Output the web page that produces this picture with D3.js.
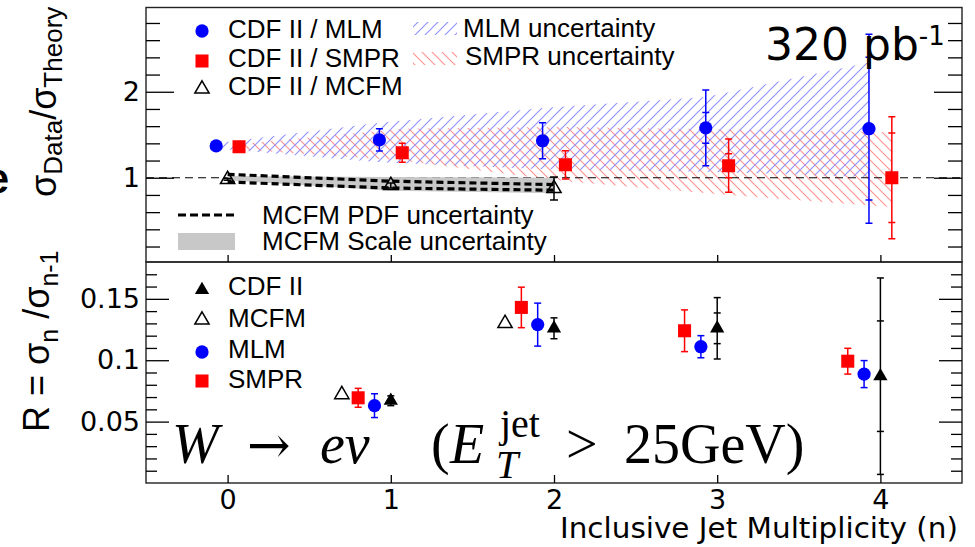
<!DOCTYPE html>
<html>
<head>
<meta charset="utf-8">
<script src="https://cdn.jsdelivr.net/npm/d3@7"></script>
<style>
  html, body { margin: 0; padding: 0; background: #fff; }
  svg { display: block; }
</style>
</head>
<body>
<svg id="chart" width="975" height="547"></svg>
<script>
// ---- Upper panel: data / theory cross-section ratios vs inclusive jet multiplicity
const nJets = [0, 1, 2, 3, 4];
const mlmRatio = [1.37, 1.44, 1.43, 1.58, 1.57];
const mlmRatioErr = [0.03, 0.13, 0.21, 0.44, 1.10];
const mlmRatioStat = [0, 0, 0, 0.18, 0.83];
const smprRatio = [1.36, 1.29, 1.15, 1.14, 1.00];
const smprRatioErr = [0.03, 0.11, 0.165, 0.31, 0.71];
const smprRatioStat = [0, 0, 0, 0.14, 0.52];

const mcfmN = [0, 1, 2];
const mcfmRatio = [0.98, 0.91, 0.875];
const mcfmRatioErr = [0.01, 0.03, 0.135];

// theory uncertainty bands (upper / lower edge at each multiplicity)
const mlmBandHi = [1.40, 1.64, 1.81, 1.94, 2.34];
const mlmBandLo = [1.34, 1.18, 1.10, 1.07, 1.01];
const smprBandHi = [1.39, 1.57, 1.59, 1.56, 1.53];
const smprBandLo = [1.33, 1.20, 0.96, 0.80, 0.66];
const mcfmPdfHi = [1.04, 0.96, 0.92];
const mcfmPdfLo = [0.95, 0.88, 0.855];
const mcfmScaleHi = [1.02, 1.01, 1.00];
const mcfmScaleLo = [0.97, 0.85, 0.82];

// ---- Lower panel: R = sigma_n / sigma_(n-1)
const rN = [1, 2, 3, 4];
const cdfR = [0.067, 0.126, 0.126, 0.087];
const cdfRErr = [0.004, 0.0085, 0.025, 0.080];
const cdfRStat = [0, 0, 0.0125, 0.045];
const mcfmRN = [1, 2];
const mcfmR = [0.072, 0.130];
const mlmR = [0.063, 0.129, 0.111, 0.0887];
const mlmRErr = [0.0097, 0.0175, 0.009, 0.011];
const smprR = [0.0694, 0.143, 0.124, 0.0992];
const smprRErr = [0.0077, 0.0165, 0.017, 0.0105];

// ---- tick labels
const xTickValues = [0, 1, 2, 3, 4];
const xTickLabels = ["0", "1", "2", "3", "4"];
const yTopMajor = [1, 2];
const yTopLabels = ["1", "2"];
const yBotMajor = [0.05, 0.1, 0.15];
const yBotLabels = ["0.05", "0.1", "0.15"];

// ---- layout
const L = 146, R = 962;
const topT = 7.5, topB = 262, botT = 262, botB = 483;
const BLUE = "#0000ff", RED = "#ff0000";
const SANS = "'Liberation Sans', Arial, sans-serif";
const TICKFONT = "'DejaVu Sans', sans-serif";

const svg = d3.select("#chart");

const x = d3.scaleLinear().domain([-0.5, 4.5]).range([L, R]);
const yTop = d3.scaleLinear().domain([0.02, 2.98]).range([topB, topT]);
const yBot = d3.scaleLinear().domain([0, 0.18]).range([botB, botT]);

// hatch patterns
const defs = svg.append("defs");
function hatch(id, color, dir) {
  const p = defs.append("pattern").attr("id", id)
    .attr("patternUnits", "userSpaceOnUse").attr("width", 10).attr("height", 10);
  const d = dir > 0
    ? "M0,10 L10,0 M-2,2 L2,-2 M8,12 L12,8"
    : "M0,0 L10,10 M-2,8 L2,12 M8,-2 L12,2";
  p.append("path").attr("d", d).attr("stroke", color).attr("stroke-width", 1.1).attr("fill", "none");
}
hatch("hatchMLM", "#8f8fff", 1);
hatch("hatchSMPR", "#ff9090", -1);

defs.append("clipPath").attr("id", "clipTop")
  .append("rect").attr("x", L).attr("y", topT).attr("width", R - L).attr("height", topB - topT);

const upper = svg.append("g").attr("clip-path", "url(#clipTop)");

function band(ns, off, hi, lo, yScale) {
  const pts = ns.map((n, i) => ({ n: n + off, hi: hi[i], lo: lo[i] }));
  return d3.area().x(d => x(d.n)).y0(d => yScale(d.lo)).y1(d => yScale(d.hi))(pts);
}

const OFF_MLM = -0.07, OFF_SMPR = 0.07;

upper.append("path").attr("d", band(nJets, OFF_SMPR, smprBandHi, smprBandLo, yTop))
  .attr("fill", "url(#hatchSMPR)");
upper.append("path").attr("d", band(nJets, OFF_MLM, mlmBandHi, mlmBandLo, yTop))
  .attr("fill", "url(#hatchMLM)");

// unity reference line
upper.append("line").attr("x1", L).attr("x2", R).attr("y1", yTop(1)).attr("y2", yTop(1))
  .attr("stroke", "#000").attr("stroke-width", 1.1).attr("stroke-dasharray", "8,5");

// MCFM scale (grey) and PDF (dashed) uncertainties
upper.append("path").attr("d", band(mcfmN, 0, mcfmScaleHi, mcfmScaleLo, yTop))
  .attr("fill", "#c8c8c8");
const pdfLine = arr => d3.line().x((d, i) => x(mcfmN[i])).y(d => yTop(d))(arr);
[mcfmPdfHi, mcfmPdfLo].forEach(arr => {
  upper.append("path").attr("d", pdfLine(arr)).attr("fill", "none")
    .attr("stroke", "#000").attr("stroke-width", 3.2).attr("stroke-dasharray", "7,4");
});

// error bars + markers
function errBar(g, cx, yScale, v, e, stat, color, cap) {
  g.append("line").attr("x1", cx).attr("x2", cx)
    .attr("y1", yScale(v - e)).attr("y2", yScale(v + e))
    .attr("stroke", color).attr("stroke-width", 1.5);
  [v - e, v + e].forEach(t => g.append("line")
    .attr("x1", cx - cap).attr("x2", cx + cap).attr("y1", yScale(t)).attr("y2", yScale(t))
    .attr("stroke", color).attr("stroke-width", 1.5));
  if (stat > 0) {
    [v - stat, v + stat].forEach(t => g.append("line")
      .attr("x1", cx - cap).attr("x2", cx + cap).attr("y1", yScale(t)).attr("y2", yScale(t))
      .attr("stroke", color).attr("stroke-width", 1.5));
  }
}
const sym = {
  circle: d3.symbol().type(d3.symbolCircle).size(138)(),
  square: d3.symbol().type(d3.symbolSquare).size(170)(),
  tri: d3.symbol().type(d3.symbolTriangle).size(88)()
};
function marker(g, type, cx, cy, fill, stroke) {
  g.append("path").attr("d", sym[type]).attr("transform", `translate(${cx},${cy})`)
    .attr("fill", fill).attr("stroke", stroke || "none").attr("stroke-width", stroke ? 1.5 : 0);
}

mcfmN.forEach((n, i) => {
  errBar(upper, x(n), yTop, mcfmRatio[i], mcfmRatioErr[i], 0, "#000", 4);
  marker(upper, "tri", x(n), yTop(mcfmRatio[i]), "none", "#000");
});
nJets.forEach((n, i) => {
  errBar(upper, x(n + OFF_MLM), yTop, mlmRatio[i], mlmRatioErr[i], mlmRatioStat[i], BLUE, 3.5);
  marker(upper, "circle", x(n + OFF_MLM), yTop(mlmRatio[i]), BLUE);
  errBar(upper, x(n + OFF_SMPR), yTop, smprRatio[i], smprRatioErr[i], smprRatioStat[i], RED, 3.5);
  marker(upper, "square", x(n + OFF_SMPR), yTop(smprRatio[i]), RED);
});

// lower panel points
const lower = svg.append("g");
mcfmRN.forEach((n, i) => marker(lower, "tri", x(n - 0.3), yBot(mcfmR[i]), "none", "#000"));
rN.forEach((n, i) => {
  errBar(lower, x(n - 0.2), yBot, smprR[i], smprRErr[i], 0, RED, 3.5);
  marker(lower, "square", x(n - 0.2), yBot(smprR[i]), RED);
  errBar(lower, x(n - 0.1), yBot, mlmR[i], mlmRErr[i], 0, BLUE, 3.5);
  marker(lower, "circle", x(n - 0.1), yBot(mlmR[i]), BLUE);
  errBar(lower, x(n), yBot, cdfR[i], cdfRErr[i], cdfRStat[i], "#000", 3.5);
  marker(lower, "tri", x(n), yBot(cdfR[i]), "#000");
});

// ---- frames
[[topT, topB], [botT, botB]].forEach(([t, b]) => {
  svg.append("rect").attr("x", L).attr("y", t).attr("width", R - L).attr("height", b - t)
    .attr("fill", "none").attr("stroke", "#222").attr("stroke-width", 1.4);
});

// ---- axes
function styleAxis(g) {
  g.select(".domain").remove();
  g.selectAll(".tick line").attr("stroke", "#000").attr("stroke-width", 1.3);
  g.selectAll(".tick text").attr("font-family", TICKFONT).attr("font-size", 27).attr("fill", "#000");
}
const topMinor = d3.range(0.2, 2.81, 0.2).filter(v => Math.abs(v - 1) > 1e-6 && Math.abs(v - 2) > 1e-6);
const botMinor = d3.range(1, 18).filter(k => k % 5 !== 0).map(k => k / 100);

// left/right ticks, upper panel
svg.append("g").attr("transform", `translate(${L},0)`)
  .call(d3.axisLeft(yTop).tickValues(yTopMajor).tickSize(-28).tickPadding(6)
    .tickFormat((d, i) => yTopLabels[i])).call(styleAxis);
svg.append("g").attr("transform", `translate(${L},0)`)
  .call(d3.axisLeft(yTop).tickValues(topMinor).tickSize(-14).tickFormat("")).call(styleAxis);
svg.append("g").attr("transform", `translate(${R},0)`)
  .call(d3.axisRight(yTop).tickValues(yTopMajor).tickSize(-28).tickFormat("")).call(styleAxis);
svg.append("g").attr("transform", `translate(${R},0)`)
  .call(d3.axisRight(yTop).tickValues(topMinor).tickSize(-14).tickFormat("")).call(styleAxis);

// left/right ticks, lower panel
svg.append("g").attr("transform", `translate(${L},0)`)
  .call(d3.axisLeft(yBot).tickValues(yBotMajor).tickSize(-23).tickPadding(6)
    .tickFormat((d, i) => yBotLabels[i])).call(styleAxis);
svg.append("g").attr("transform", `translate(${L},0)`)
  .call(d3.axisLeft(yBot).tickValues(botMinor).tickSize(-11).tickFormat("")).call(styleAxis);
svg.append("g").attr("transform", `translate(${R},0)`)
  .call(d3.axisRight(yBot).tickValues(yBotMajor).tickSize(-23).tickFormat("")).call(styleAxis);
svg.append("g").attr("transform", `translate(${R},0)`)
  .call(d3.axisRight(yBot).tickValues(botMinor).tickSize(-11).tickFormat("")).call(styleAxis);

// bottom ticks of both panels
svg.append("g").attr("transform", `translate(0,${topB})`)
  .call(d3.axisBottom(x).tickValues(xTickValues).tickSize(-7).tickFormat("")).call(styleAxis);
svg.append("g").attr("transform", `translate(0,${botB})`)
  .call(d3.axisBottom(x).tickValues(xTickValues).tickSize(-8).tickPadding(7)
    .tickFormat((d, i) => xTickLabels[i])).call(styleAxis);

// ---- axis titles
svg.append("text").attr("x", 958).attr("y", 538).attr("text-anchor", "end")
  .attr("font-family", TICKFONT).attr("font-size", 28)
  .attr("textLength", 398).attr("lengthAdjust", "spacingAndGlyphs")
  .text("Inclusive Jet Multiplicity (n)");

const yt1 = svg.append("text").attr("transform", "translate(56,197) rotate(-90)")
  .attr("font-family", SANS).attr("font-size", 36);
yt1.append("tspan").text("σ");
yt1.append("tspan").attr("font-size", 26).attr("dy", 6).text("Data");
yt1.append("tspan").attr("dy", -6).text("/σ");
yt1.append("tspan").attr("font-size", 26).attr("dy", 6).text("Theory");

const yt2 = svg.append("text").attr("transform", "translate(49,432) rotate(-90)")
  .attr("font-family", SANS).attr("font-size", 36);
yt2.append("tspan").text("R = σ");
yt2.append("tspan").attr("font-size", 25).attr("dy", 9).text("n");
yt2.append("tspan").attr("dy", -9).text(" /σ");
yt2.append("tspan").attr("font-size", 25).attr("dy", 9).text("n-1");

// leftover letter at the page edge
svg.append("text").attr("x", 9).attr("y", 193).attr("text-anchor", "end")
  .attr("font-family", SANS).attr("font-weight", "bold").attr("font-size", 42).text("e");

// ---- luminosity label
const lum = svg.append("text").attr("x", 765).attr("y", 60)
  .attr("font-family", TICKFONT).attr("font-size", 44).attr("fill", "#000");
lum.append("tspan").text("320 pb");
lum.append("tspan").attr("font-size", 26).attr("dy", -15).text("-1");

// ---- upper legend
const LEG = 26;
function legText(tx, ty, s) {
  svg.append("text").attr("x", tx).attr("y", ty).attr("font-family", SANS)
    .attr("font-size", LEG).attr("fill", "#000").text(s);
}
marker(svg, "circle", 202, 31, BLUE);
legText(228, 38, "CDF II / MLM");
marker(svg, "square", 202, 61, RED);
legText(228, 67, "CDF II / SMPR");
marker(svg, "tri", 202, 89, "none", "#000");
legText(228, 95, "CDF II / MCFM");

svg.append("rect").attr("x", 413).attr("y", 22).attr("width", 44).attr("height", 13).attr("fill", "url(#hatchMLM)");
legText(463, 37, "MLM uncertainty");
svg.append("rect").attr("x", 413).attr("y", 52).attr("width", 44).attr("height", 13).attr("fill", "url(#hatchSMPR)");
legText(465, 65, "SMPR uncertainty");

svg.append("line").attr("x1", 178).attr("x2", 235).attr("y1", 215).attr("y2", 215)
  .attr("stroke", "#000").attr("stroke-width", 3.2).attr("stroke-dasharray", "8,4");
legText(262, 224, "MCFM PDF uncertainty");
svg.append("rect").attr("x", 178).attr("y", 233).attr("width", 57).attr("height", 17).attr("fill", "#c8c8c8");
legText(262, 250, "MCFM Scale uncertainty");

// ---- lower legend
marker(svg, "tri", 202, 290, "#000");
legText(228, 295, "CDF II");
marker(svg, "tri", 202, 320, "none", "#000");
legText(228, 327, "MCFM");
marker(svg, "circle", 202, 352, BLUE);
legText(228, 358, "MLM");
marker(svg, "square", 202, 381, RED);
legText(228, 388, "SMPR");

// ---- process label: W -> e nu (E_T^jet > 25 GeV)
const SERIF = "'Liberation Serif', 'DejaVu Serif', serif";
function mathText(tx, ty, s, size, italic, family) {
  svg.append("text").attr("x", tx).attr("y", ty).attr("font-family", family || SERIF)
    .attr("font-size", size).attr("font-style", italic ? "italic" : "normal").attr("fill", "#000").text(s);
}
mathText(172, 463, "W", 56, true);
mathText(247, 463, "→", 52, false, "'DejaVu Serif', serif");
mathText(320, 463, "eν", 56, true);
mathText(431, 463, "(", 56, false);
mathText(450, 463, "E", 56, true);
mathText(500, 437, "jet", 40, false);
mathText(496, 478, "T", 40, true);
mathText(566, 463, ">", 56, false);
mathText(624, 463, "25GeV)", 56, false);
</script>
</body>
</html>
